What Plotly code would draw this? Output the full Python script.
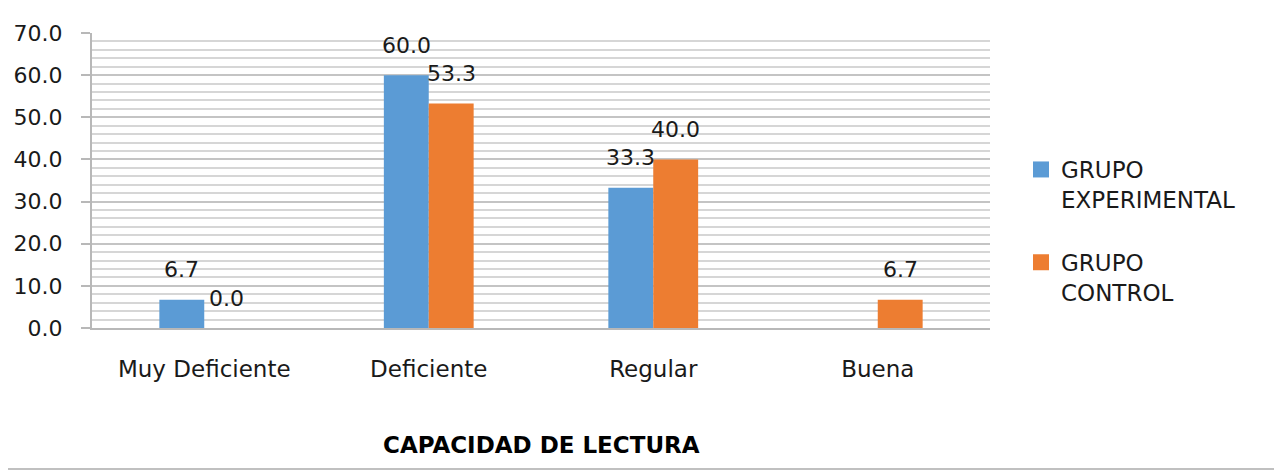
import plotly.graph_objects as go

categories = ["Muy Deficiente", "Deficiente", "Regular", "Buena"]
experimental = [6.7, 60.0, 33.3, None]
control = [0.0, 53.3, 40.0, 6.7]
series_names = ["GRUPO<br>EXPERIMENTAL", "GRUPO<br>CONTROL"]
y_ticks = [0, 10, 20, 30, 40, 50, 60, 70]
x_title = "CAPACIDAD DE LECTURA"

BLUE = "#5B9BD5"
ORANGE = "#ED7D31"
FONT = "DejaVu Sans"

OFF = 8  # page body margin
W, H = 1282 - OFF, 474 - OFF
# plot area in page pixel coordinates
PX0, PX1, PY0, PY1 = 92, 990, 33, 328
L, T = PX0 - OFF, PY0 - OFF
R = W - (PX1 - OFF)
B = H - (PY1 - OFF)
PW = PX1 - PX0
PH = PY1 - PY0


def px_to_paper_x(px):
    return (px - PX0) / PW


def py_to_paper_y(py):
    return (PY1 - py) / PH


fig = go.Figure()
fig.add_trace(go.Bar(x=categories, y=experimental, marker_color=BLUE,
                     marker_line_width=0, showlegend=False))
fig.add_trace(go.Bar(x=categories, y=control, marker_color=ORANGE,
                     marker_line_width=0, showlegend=False))
for i, (name, col) in enumerate(zip(series_names, [BLUE, ORANGE])):
    fig.add_trace(go.Scatter(x=[None], y=[None], mode="markers", name=name,
                             legendgroup=f"g{i}",
                             marker=dict(symbol="square", size=16, color=col)))

ann = []
for vals, shift in ((experimental, -22.5), (control, 22.5)):
    for c, v in zip(categories, vals):
        if v is None:
            continue
        ann.append(dict(x=c, y=v, xref="x", yref="y", text=f"{v:.1f}",
                        showarrow=False, xshift=shift, yshift=30,
                        xanchor="center", yanchor="middle",
                        font=dict(family=FONT, size=22, color="#1a1a1a")))
ann.append(dict(x=0.5, y=py_to_paper_y(445), xref="paper", yref="paper",
                text="<b>" + x_title + "</b>", showarrow=False,
                xanchor="center", yanchor="middle",
                font=dict(family=FONT, size=23, color="#000000")))

border = dict(color="#c0c0c0", width=2)
fig.update_layout(
    width=W, height=H,
    margin=dict(l=L, r=R, t=T, b=B, pad=0, autoexpand=False),
    paper_bgcolor="white", plot_bgcolor="white",
    barmode="group", bargap=0.6, bargroupgap=0,
    font=dict(family=FONT, size=22, color="#1a1a1a"),
    annotations=ann,
    legend=dict(x=px_to_paper_x(1062 - 41), xanchor="left",
                y=py_to_paper_y(148), yanchor="top",
                font=dict(family=FONT, size=23, color="#1a1a1a"),
                valign="top", tracegroupgap=30, itemwidth=30,
                bgcolor="rgba(0,0,0,0)"),
    shapes=[
        dict(type="line", xref="paper", yref="paper", layer="above",
             x0=px_to_paper_x(1276), x1=px_to_paper_x(1276),
             y0=py_to_paper_y(469), y1=py_to_paper_y(8), line=border),
        dict(type="line", xref="paper", yref="paper", layer="above",
             x0=px_to_paper_x(8), x1=px_to_paper_x(1276),
             y0=py_to_paper_y(469), y1=py_to_paper_y(469), line=border),
    ],
)
fig.update_xaxes(showline=True, linecolor="#b8b8b8", linewidth=2,
                 ticks="", showgrid=False, ticklabelstandoff=19,
                 automargin=False,
                 tickfont=dict(family=FONT, size=23, color="#1a1a1a"))
fig.update_yaxes(range=[0, 70], tickvals=y_ticks, tickformat=".1f",
                 showline=True, linecolor="#b8b8b8", linewidth=2,
                 ticks="outside", ticklen=9, tickcolor="#b8b8b8", tickwidth=2,
                 ticklabelstandoff=14, automargin=False,
                 showgrid=True, gridcolor="#c4c4c4", gridwidth=2,
                 minor=dict(dtick=2, showgrid=True, gridcolor="#d6d6d6", gridwidth=2),
                 zeroline=False,
                 tickfont=dict(family=FONT, size=22, color="#1a1a1a"))

fig.write_html("out.html")
